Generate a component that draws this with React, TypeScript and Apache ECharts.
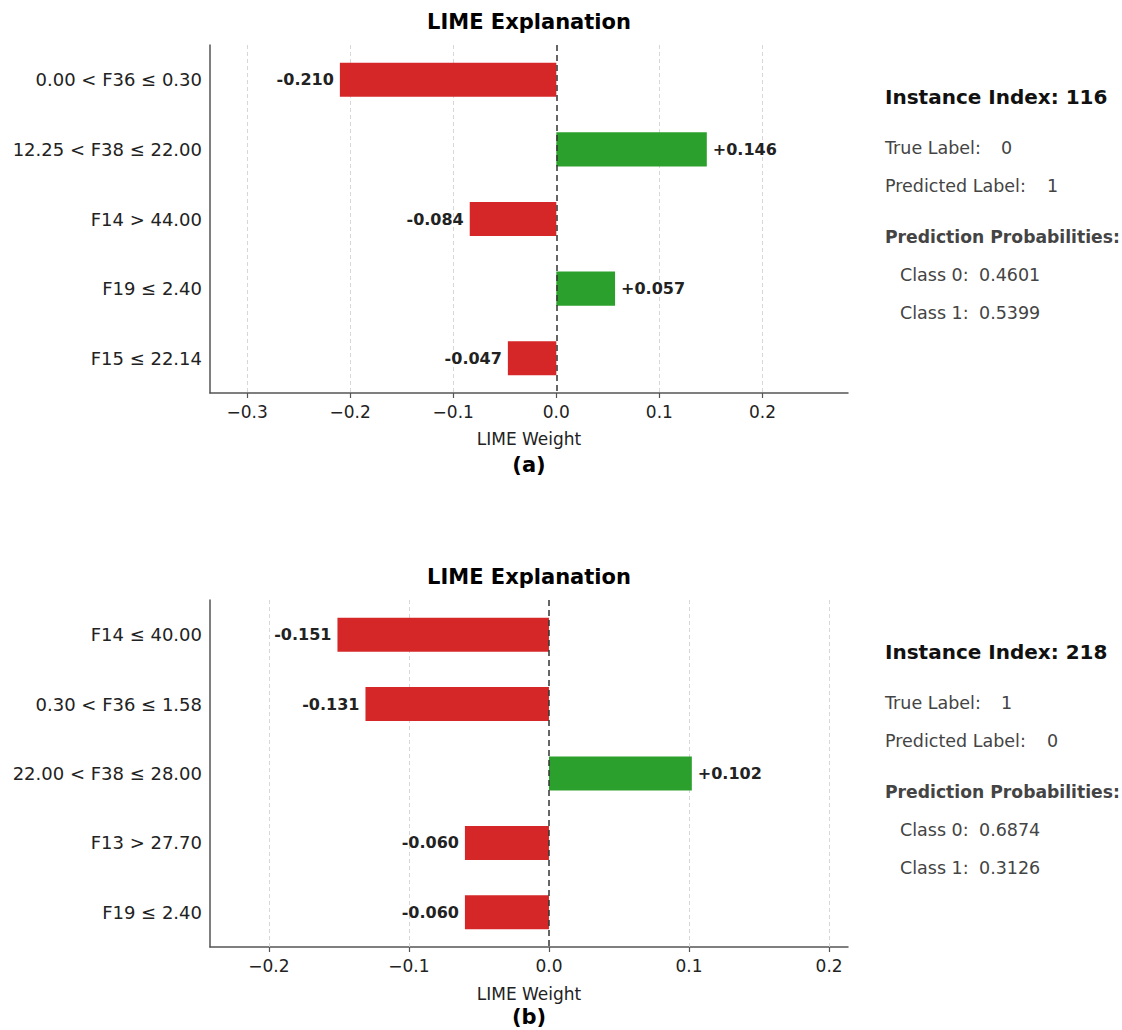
import React, { useEffect, useRef } from 'react';
import * as echarts from 'echarts';

const catsA = ['0.00 < F36 ≤ 0.30', '12.25 < F38 ≤ 22.00', 'F14 > 44.00', 'F19 ≤ 2.40', 'F15 ≤ 22.14'];
const valsA = [-0.21, 0.146, -0.084, 0.057, -0.047];
const ticksA = [-0.3, -0.2, -0.1, 0, 0.1, 0.2];
const rangeA = [-0.336, 0.283];
const indexA = 116;
const trueA = 0;
const predA = 1;
const probsA = ['0.4601', '0.5399'];

const catsB = ['F14 ≤ 40.00', '0.30 < F36 ≤ 1.58', '22.00 < F38 ≤ 28.00', 'F13 > 27.70', 'F19 ≤ 2.40'];
const valsB = [-0.151, -0.131, 0.102, -0.06, -0.06];
const ticksB = [-0.2, -0.1, 0, 0.1, 0.2];
const rangeB = [-0.242, 0.2135];
const indexB = 218;
const trueB = 1;
const predB = 0;
const probsB = ['0.6874', '0.3126'];

const FONT = '"DejaVu Sans", Verdana, sans-serif';
const RED = '#d62728';
const GREEN = '#2ca02c';
const SPINE = '#555555';

function buildOption() {
  const panels = [
    { cats: catsA, vals: valsA, ticks: ticksA, range: rangeA, top: 45, height: 348, letter: '(a)', idx: indexA, tl: trueA, pl: predA, probs: probsA, titleY: 22, nameY: 439, letterY: 465, ry: 0 },
    { cats: catsB, vals: valsB, ticks: ticksB, range: rangeB, top: 600, height: 347, letter: '(b)', idx: indexB, tl: trueB, pl: predB, probs: probsB, titleY: 577, nameY: 994, letterY: 1017, ry: 555 },
  ];
  const grid: any[] = [];
  const xAxis: any[] = [];
  const yAxis: any[] = [];
  const series: any[] = [];
  const graphic: any[] = [];
  const fmtTick = (v: number) => (v < 0 ? '\u2212' : '') + Math.abs(v).toFixed(1);

  const txt = (text: string, x: number, y: number, size: number, weight: string, color: string, align = 'left') => ({
    type: 'text',
    x,
    y,
    silent: true,
    style: {
      text,
      fill: color,
      fontSize: size,
      fontWeight: weight,
      fontFamily: FONT,
      align,
      verticalAlign: 'middle',
      textAlign: align,
      textVerticalAlign: 'middle',
    },
  });

  panels.forEach((p, i) => {
    grid.push({ left: 210, right: 274, top: p.top, height: p.height, containLabel: false });
    xAxis.push({
      type: 'value',
      gridIndex: i,
      min: p.range[0],
      max: p.range[1],
      axisLine: { show: true, onZero: false, lineStyle: { color: SPINE, width: 1.5 } },
      axisTick: { show: true, customValues: p.ticks, length: 5, lineStyle: { color: SPINE, width: 1.2 } },
      axisLabel: {
        customValues: p.ticks,
        formatter: fmtTick,
        fontSize: 17,
        color: '#222',
        fontFamily: FONT,
        margin: 10,
      },
      splitLine: { show: false },
    });
    yAxis.push({
      type: 'category',
      gridIndex: i,
      inverse: true,
      data: p.cats,
      axisLine: { show: true, onZero: false, lineStyle: { color: SPINE, width: 1.5 } },
      axisTick: { show: false },
      axisLabel: { fontSize: 18, color: '#222', fontFamily: FONT, margin: 8 },
      splitLine: { show: false },
    });
    series.push({
      type: 'bar',
      xAxisIndex: i,
      yAxisIndex: i,
      barWidth: '49%',
      z: 2,
      data: p.vals.map((v) => ({
        value: v,
        itemStyle: { color: v < 0 ? RED : GREEN },
        label: { position: v < 0 ? 'left' : 'right' },
      })),
      label: {
        show: true,
        formatter: (d: any) => (d.value > 0 ? '+' : '') + Number(d.value).toFixed(3),
        fontSize: 16,
        fontWeight: 'bold',
        color: '#222',
        fontFamily: FONT,
        distance: 6,
      },
      markLine: {
        silent: true,
        symbol: 'none',
        z: 1,
        label: { show: false },
        animation: false,
        data: p.ticks
          .filter((t) => t !== 0)
          .map((t) => ({ xAxis: t, lineStyle: { color: '#d3d3d3', type: [4, 3], width: 0.9 } })),
      },
    });
    series.push({
      type: 'line',
      xAxisIndex: i,
      yAxisIndex: i,
      data: [],
      markLine: {
        silent: true,
        symbol: 'none',
        z: 6,
        label: { show: false },
        animation: false,
        data: [{ xAxis: 0, lineStyle: { color: '#333', type: [6, 4], width: 1.5 } }],
      },
    });

    graphic.push(txt('LIME Explanation', 529, p.titleY, 21, 'bold', '#000', 'center'));
    graphic.push(txt('LIME Weight', 529, p.nameY, 17, 'normal', '#222', 'center'));
    graphic.push(txt(p.letter, 529, p.letterY, 21, 'bold', '#000', 'center'));

    const ry = p.ry;
    graphic.push(txt('Instance Index: ' + p.idx, 885, 97 + ry, 20, 'bold', '#111'));
    graphic.push(txt('True Label:', 885, 148 + ry, 17.5, 'normal', '#444'));
    graphic.push(txt(String(p.tl), 1001, 148 + ry, 17.5, 'normal', '#444'));
    graphic.push(txt('Predicted Label:', 885, 186 + ry, 17.5, 'normal', '#444'));
    graphic.push(txt(String(p.pl), 1047, 186 + ry, 17.5, 'normal', '#444'));
    graphic.push(txt('Prediction Probabilities:', 885, 237 + ry, 17.2, 'bold', '#444'));
    p.probs.forEach((pr, k) => {
      graphic.push(txt('Class ' + k + ':', 900, 275 + k * 38 + ry, 17.5, 'normal', '#444'));
      graphic.push(txt(pr, 979, 275 + k * 38 + ry, 17.5, 'normal', '#444'));
    });
  });

  return {
    animation: false,
    backgroundColor: '#ffffff',
    textStyle: { fontFamily: FONT },
    grid,
    xAxis,
    yAxis,
    series,
    graphic,
  };
}

export default function App() {
  const ref = useRef<HTMLDivElement>(null);
  useEffect(() => {
    document.body.style.margin = '0';
    const chart = echarts.init(ref.current as HTMLDivElement, null, { renderer: 'svg' });
    chart.setOption(buildOption() as any);
    return () => chart.dispose();
  }, []);
  return <div ref={ref} style={{ width: 1122, height: 1030 }} />;
}
